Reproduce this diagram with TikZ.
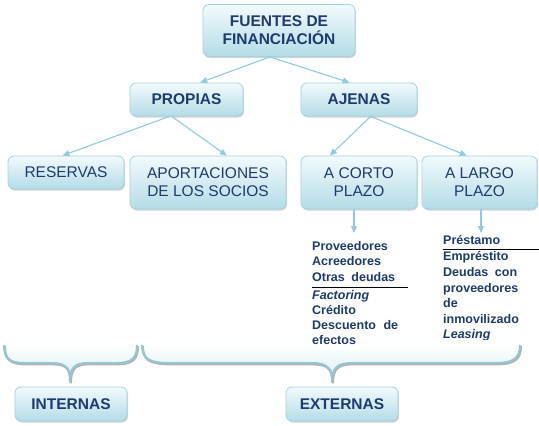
\documentclass[tikz,border=0pt]{standalone}
\usepackage{fontspec}
\setmainfont{Liberation Sans}
\usetikzlibrary{calc,shadows,arrows.meta}
\definecolor{navy}{HTML}{1F3A6E}
\definecolor{boxtop}{HTML}{F2FAFC}
\definecolor{boxbot}{HTML}{B3DCE7}
\definecolor{boxline}{HTML}{A3D3E0}
\definecolor{conn}{HTML}{8FCBDB}
\definecolor{bracecol}{HTML}{93C6D3}
\definecolor{bracefill}{HTML}{D6EDF3}
\tikzset{
  box/.style={draw=boxline, line width=0.8pt, rounded corners=6pt,
    top color=boxtop, bottom color=boxbot, align=center, text=navy,
    inner sep=0pt, font=\fontsize{15.5}{18}\selectfont,
    drop shadow={opacity=0.35, shadow xshift=1pt, shadow yshift=-1.5pt}},
  boldbox/.style={box, font=\fontsize{15.5}{18}\selectfont\bfseries},
  conn/.style={draw=conn, line width=1.1pt, -{Triangle[length=7pt,width=6pt]}},
  item/.style={anchor=base west, inner sep=0pt, text=navy,
    font=\fontsize{12.5}{15}\selectfont\bfseries},
  rule/.style={draw=black, line width=0.8pt},
  brace/.style={draw=bracecol, line width=2pt},
  braceshadow/.style={draw=black!30, line width=2.4pt},
  bracearea/.style={top color=white, bottom color=bracefill, draw=none}
}
\begin{document}
\begin{tikzpicture}[x=1pt,y=-1pt]
\useasboundingbox (0,0) rectangle (539,426);
% brace areas
\fill[bracearea] (4,345) .. controls (4,358) and (9,363) .. (25,363) -- (52,363)
  .. controls (66,363) and (70,368) .. (70,382)
  .. controls (70,368) and (74,363) .. (88,363) -- (116,363)
  .. controls (132,363) and (137,358) .. (137,345) -- cycle;
\fill[bracearea] (142,345) .. controls (142,358) and (148,363) .. (170,363) -- (312,363)
  .. controls (327,363) and (332,368) .. (332,382)
  .. controls (332,368) and (337,363) .. (352,363) -- (495,363)
  .. controls (514,363) and (520,358) .. (520,345) -- cycle;
% boxes
\node[boldbox, minimum width=152pt, minimum height=52pt] (F) at (279,30.5) {FUENTES DE\\FINANCIACIÓN};
\node[boldbox, minimum width=113pt, minimum height=33pt] (P) at (186.5,99.5) {PROPIAS};
\node[boldbox, minimum width=116pt, minimum height=33pt] (A) at (359,99.5) {AJENAS};
\node[box, minimum width=116pt, minimum height=33pt] (R) at (66,172.5) {RESERVAS};
\node[box, minimum width=156pt, minimum height=53pt] (S) at (208,182.5) {APORTACIONES\\DE LOS SOCIOS};
\node[box, minimum width=116pt, minimum height=53pt] (C) at (359,182.5) {A CORTO\\PLAZO};
\node[box, minimum width=115pt, minimum height=53pt] (L) at (479.5,182.5) {A LARGO\\PLAZO};
\node[boldbox, minimum width=112pt, minimum height=34pt] (I) at (71,404) {INTERNAS};
\node[boldbox, minimum width=112pt, minimum height=34pt] (E) at (342,404) {EXTERNAS};
% connectors
\draw[conn] ($(F.south west)!0.44!(F.south east)$) -- ($(P.north west)!0.62!(P.north east)$);
\draw[conn] ($(F.south west)!0.44!(F.south east)$) -- ($(A.north west)!0.42!(A.north east)$);
\draw[conn] ($(P.south west)!0.35!(P.south east)$) -- ($(R.north west)!0.47!(R.north east)$);
\draw[conn] ($(P.south west)!0.37!(P.south east)$) -- ($(S.north west)!0.62!(S.north east)$);
\draw[conn] ($(A.south west)!0.6!(A.south east)$) -- ($(C.north west)!0.25!(C.north east)$);
\draw[conn] ($(A.south west)!0.6!(A.south east)$) -- ($(L.north west)!0.39!(L.north east)$);
\coordinate (ct) at (354,233);
\coordinate (lt) at (481,233);
\draw[conn] (C.south -| ct) -- (ct);
\draw[conn] (L.south -| lt) -- (lt);
% left list
\node[item] (l1) at (312,250) {Proveedores};
\node[item] (l2) at (312,265.5) {Acreedores};
\node[item] (l3) at (312,281) {\makebox[83pt][s]{Otras deudas}};
\coordinate (r1a) at (312,287);
\coordinate (r1b) at (408,287);
\draw[rule] (r1a) -- (r1b);
\node[item] (l4) at (312,299) {\itshape Factoring};
\node[item] (l5) at (312,314) {Crédito};
\node[item] (l6) at (312,329) {\makebox[86pt][s]{Descuento de}};
\node[item] (l7) at (312,344) {efectos};
% right list
\begin{scope}
\clip (430,230) rectangle (539,339.5);
\node[item] (m1) at (443,244.5) {Préstamo};
\coordinate (r2a) at (443,249.5);
\coordinate (r2b) at (539,249.5);
\draw[rule] (r2a) -- (r2b);
\node[item] (m2) at (443,260.5) {Empréstito};
\node[item] (m3) at (443,276.5) {\makebox[74pt][s]{Deudas con}};
\node[item] (m4) at (443,292) {proveedores};
\node[item] (m5) at (443,307.5) {de};
\node[item] (m6) at (443,323) {inmovilizado};
\node[item] (m7) at (443,338.5) {\itshape Leasing};
\end{scope}
% braces
\foreach \st/\dx/\dy in {braceshadow/0.8/1.2, brace/0/0}{
\begin{scope}[shift={(\dx,\dy)}]
\draw[\st] (4,345) .. controls (4,358) and (9,363) .. (25,363) -- (52,363)
  .. controls (66,363) and (70,368) .. (70,382)
  .. controls (70,368) and (74,363) .. (88,363) -- (116,363)
  .. controls (132,363) and (137,358) .. (137,345);
\draw[\st] (142,345) .. controls (142,358) and (148,363) .. (170,363) -- (312,363)
  .. controls (327,363) and (332,368) .. (332,382)
  .. controls (332,368) and (337,363) .. (352,363) -- (495,363)
  .. controls (514,363) and (520,358) .. (520,345);
\end{scope}}
\end{tikzpicture}
\end{document}
